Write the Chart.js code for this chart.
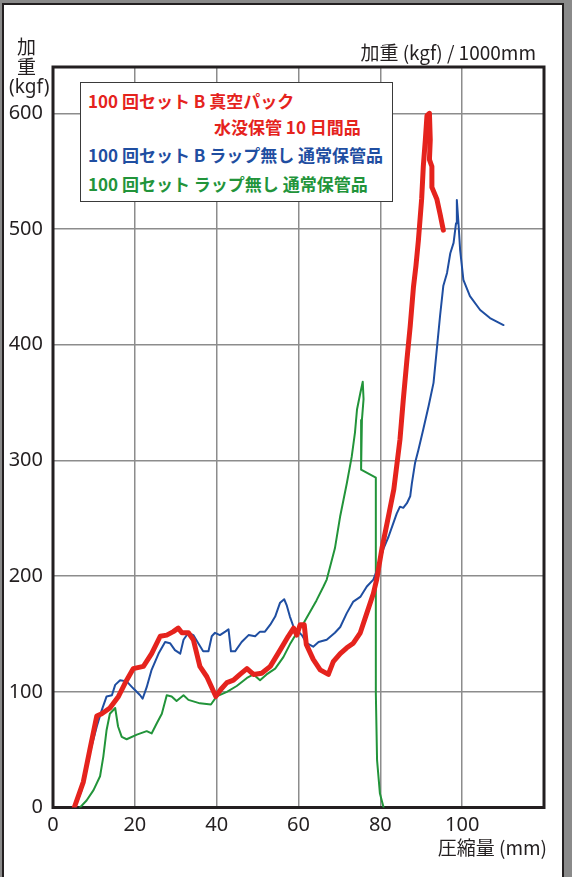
<!DOCTYPE html>
<html>
<head>
<meta charset="utf-8">
<title>加重 / 圧縮量</title>
<script src="https://cdn.jsdelivr.net/npm/chart.js"></script>
<style>
  html, body { margin:0; padding:0; }
  body { width:572px; height:877px; background:#8a8a8a; position:relative; overflow:hidden;
         font-family:"Noto Sans CJK JP", "Noto Sans", sans-serif; color:#231f20; }
  #frame { position:absolute; left:2px; top:3px; width:562px; height:880px; background:#fff;
           border:2px solid #231f20; box-sizing:border-box; }
  #chart { position:absolute; left:0; top:0; }
  .lbl { position:absolute; white-space:nowrap; font-size:19px; line-height:1; }
  #legend { position:absolute; left:80px; top:82px; width:313px; height:120px; background:#fff;
            border:1.5px solid #3a3a3a; box-sizing:border-box; }
  #legend div { position:absolute; white-space:nowrap; font-size:17px; font-weight:bold; line-height:1; }
</style>
</head>
<body>
<div id="frame"></div>
<canvas id="chart" width="572" height="877"></canvas>

<div class="lbl" style="right:36px; top:42px;">加重 (kgf) / 1000mm</div>
<div class="lbl" style="left:17px; top:36px;">加</div>
<div class="lbl" style="left:17px; top:56px;">重</div>
<div class="lbl" style="left:9px; top:77px; font-family:'Liberation Sans Narrow','Noto Sans',sans-serif;">(kgf)</div>
<div class="lbl" style="right:25px; top:837px;">圧縮量 (mm)</div>

<div id="legend">
  <div style="left:7px; top:9px; color:#e5231d;">100 回セット B 真空パック</div>
  <div style="left:133px; top:35px; color:#e5231d;">水没保管 10 日間品</div>
  <div style="left:7px; top:63px; color:#1f4ea1;">100 回セット B ラップ無し 通常保管品</div>
  <div style="left:7px; top:92px; color:#22943a;">100 回セット ラップ無し 通常保管品</div>
</div>

<script>
// 圧縮量 (mm) / 加重 (kgf)
const redX = [5.2, 7.4, 9.0, 10.7, 11.9, 13.9, 16.0, 18.0, 19.6, 22.1, 24.1, 26.2, 27.8, 29.4, 30.6, 31.5, 33.1, 34.3, 35.9, 37.6, 39.8, 41.0, 42.5, 44.1, 45.7, 47.4, 49.0, 51.0, 53.1, 55.5, 57.5, 58.8, 59.6, 60.4, 61.4, 61.9, 63.6, 65.3, 67.3, 68.5, 70.2, 71.8, 73.4, 75.1, 76.7, 78.3, 79.1, 80.4, 82.0, 83.3, 84.1, 84.8, 85.6, 86.5, 87.3, 88.1, 88.7, 89.3, 90.1, 90.5, 91.0, 91.4, 92.0, 92.2, 92.0, 92.6, 92.6, 93.8, 94.6, 95.4];
const redY = [0, 22, 50, 79, 81, 86, 96, 110, 120, 122, 133, 148, 149, 152, 155, 151, 151, 145, 122, 113, 96, 102, 108, 110, 115, 120, 115, 116, 122, 136, 148, 155, 149, 158, 158, 141, 128, 119, 115, 126, 133, 138, 142, 151, 168, 185, 197, 224, 252, 275, 298, 318, 352, 387, 416, 450, 468, 490, 526, 554, 577, 598, 600, 577, 560, 554, 536, 526, 513, 499];

const blueX = [5.4, 7.0, 9.0, 10.7, 11.9, 13.1, 14.4, 15.2, 16.4, 18.0, 19.6, 21.3, 21.9, 22.9, 24.1, 25.8, 27.4, 28.6, 29.8, 31.1, 31.9, 33.1, 34.3, 35.5, 36.7, 38.0, 38.8, 39.6, 40.8, 42.1, 42.9, 43.5, 44.5, 46.1, 47.8, 49.4, 50.6, 51.8, 53.1, 54.3, 55.5, 56.5, 57.1, 57.9, 58.8, 60.0, 60.8, 62.0, 63.6, 64.9, 66.9, 68.9, 70.2, 71.8, 73.4, 75.1, 76.7, 78.3, 79.5, 80.8, 82.0, 83.2, 84.0, 84.8, 85.6, 86.5, 87.3, 87.7, 88.5, 89.3, 90.5, 91.8, 93.0, 93.8, 94.6, 95.4, 96.3, 97.1, 97.9, 98.5, 98.7, 99.1, 99.5, 100.3, 101.9, 104.4, 106.8, 110.1];
const blueY = [0, 15, 47, 70, 84, 96, 97, 106, 110, 109, 103, 97, 94, 104, 119, 133, 143, 142, 136, 133, 145, 151, 149, 142, 135, 135, 148, 151, 149, 152, 154, 135, 135, 143, 149, 148, 152, 152, 158, 165, 177, 180, 175, 165, 156, 152, 149, 142, 139, 143, 145, 151, 156, 168, 178, 182, 191, 197, 208, 224, 234, 246, 254, 260, 259, 263, 269, 280, 298, 309, 327, 347, 367, 396, 425, 451, 462, 479, 488, 505, 525, 505, 482, 456, 442, 430, 423, 417];

const greenX = [6.6, 8.2, 9.9, 11.5, 12.3, 13.1, 13.9, 15.2, 15.9, 16.8, 18.0, 20.5, 22.9, 24.1, 25.4, 26.6, 27.8, 29.0, 30.2, 31.9, 33.1, 35.9, 38.6, 40.0, 42.5, 44.9, 47.4, 49.0, 50.6, 52.2, 54.3, 56.3, 57.9, 59.6, 61.2, 62.8, 64.4, 66.1, 66.9, 68.9, 70.2, 71.0, 71.8, 73.0, 73.8, 74.3, 75.1, 75.7, 75.9, 75.5, 75.3, 75.3, 78.9, 78.9, 78.9, 79.2, 79.9, 80.8];
const greenY = [0, 6, 15, 27, 44, 67, 81, 86, 70, 61, 59, 63, 66, 64, 73, 81, 97, 96, 92, 97, 93, 90, 89, 96, 100, 105, 112, 115, 110, 115, 120, 130, 141, 151, 159, 169, 179, 191, 197, 224, 252, 266, 280, 303, 324, 344, 358, 368, 353, 335, 309, 292, 285, 223, 99, 41, 12, 0];

const xTicks = [0, 20, 40, 60, 80, 100];
const yTicks = [0, 100, 200, 300, 400, 500, 600];

const pts = (xs, ys) => xs.map((x, i) => ({x: x, y: ys[i]}));

const framePlugin = {
  id: 'frame',
  beforeDatasetsDraw(chart) {
    const a = chart.chartArea, c = chart.ctx;
    c.save();
    c.strokeStyle = '#231f20';
    c.lineWidth = 3;
    c.strokeRect(a.left, a.top, a.right - a.left, a.bottom - a.top);
    c.restore();
  }
};

const tickFont = {family: "'Liberation Sans Narrow', 'Noto Sans', sans-serif", size: 20};

new Chart(document.getElementById('chart'), {
  type: 'scatter',
  data: {
    datasets: [
      {label: '100 回セット B 真空パック 水没保管 10 日間品', data: pts(redX, redY),
       borderColor: '#e5231d', borderWidth: 5},
      {label: '100 回セット B ラップ無し 通常保管品', data: pts(blueX, blueY),
       borderColor: '#1f4ea1', borderWidth: 2},
      {label: '100 回セット ラップ無し 通常保管品', data: pts(greenX, greenY),
       borderColor: '#22943a', borderWidth: 2}
    ]
  },
  options: {
    responsive: false,
    animation: false,
    layout: {padding: {left: 0, top: 67, right: 28, bottom: 0}},
    datasets: {scatter: {showLine: true, pointRadius: 0, tension: 0,
      borderCapStyle: 'round', borderJoinStyle: 'round', fill: false}},
    plugins: {legend: {display: false}, tooltip: {enabled: false}},
    scales: {
      x: {
        type: 'linear', min: 0, max: 120,
        afterBuildTicks: s => { s.ticks = xTicks.map(v => ({value: v})); },
        afterFit: s => { s.height = 877 - 807.5; },
        grid: {color: '#8c8c8c', lineWidth: 1.5, drawTicks: false},
        border: {display: false},
        ticks: {padding: 6, color: '#231f20', font: tickFont, maxRotation: 0}
      },
      y: {
        type: 'linear', min: 0, max: 640,
        afterBuildTicks: s => { s.ticks = yTicks.map(v => ({value: v})); },
        afterFit: s => { s.width = 53; },
        grid: {color: '#8c8c8c', lineWidth: 1.5, drawTicks: false},
        border: {display: false},
        ticks: {padding: 10, color: '#231f20', font: tickFont}
      }
    }
  },
  plugins: [framePlugin]
});
</script>
</body>
</html>
